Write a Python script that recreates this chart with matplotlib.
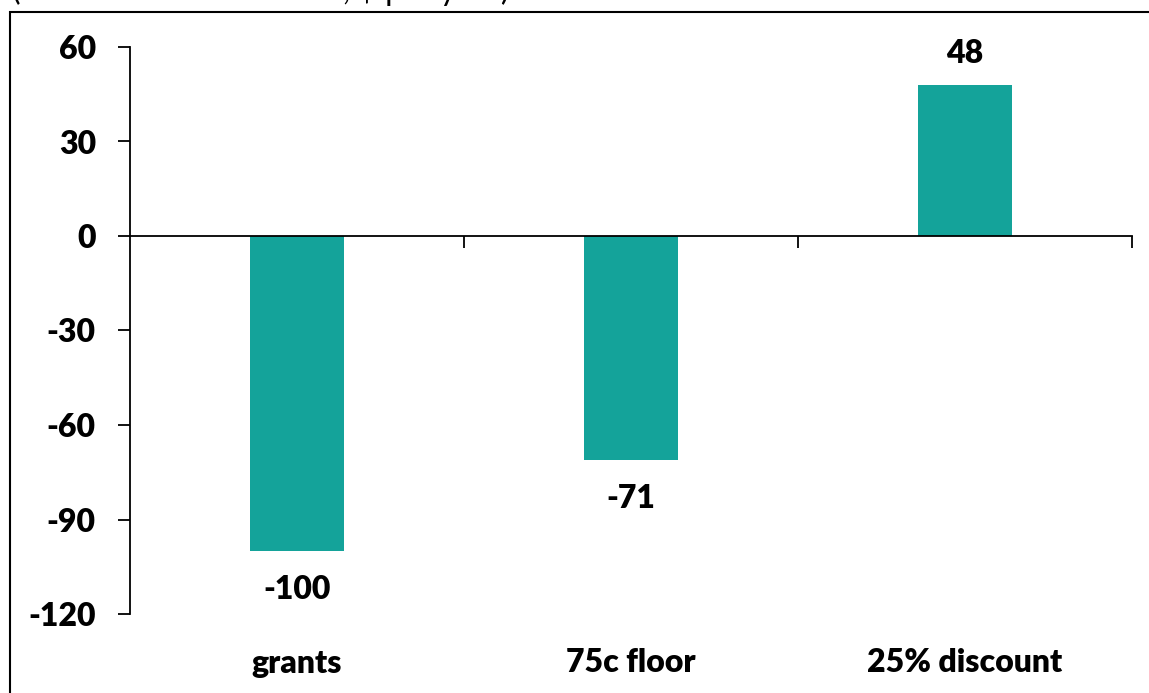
import matplotlib
matplotlib.use("Agg")
import matplotlib.pyplot as plt
from matplotlib.patches import Rectangle
import matplotlib.transforms as mtransforms

categories = ["grants", "75c floor", "25% discount"]
values = [-100, -71, 48]
yticks = [60, 30, 0, -30, -60, -90, -120]
subtitle = "(Net benefit vs baseline, $ per year)"

W, H = 1149, 693
fig = plt.figure(figsize=(W / 100, H / 100), dpi=100)
plt.rcParams['font.family'] = ['Lato', 'DejaVu Sans']
FS = 23
FW = "heavy"

ax = fig.add_axes([130 / W, 1 - 614 / H, (1132 - 130) / W, (614 - 47) / H])

x = list(range(len(categories)))
ax.bar(x, values, width=0.28, color="#14A39A", zorder=2)
ax.set_xlim(-0.5, len(categories) - 0.5)
ax.set_ylim(-120, 60)

for s in ["top", "right"]:
    ax.spines[s].set_visible(False)
ax.spines["bottom"].set_position(("data", 0))
ax.spines["bottom"].set_linewidth(1.3)
ax.spines["left"].set_linewidth(1.3)
ax.spines["bottom"].set_zorder(3)

ax.set_yticks(yticks)
ax.set_yticklabels([str(v) for v in yticks], fontsize=FS, fontweight=FW)
ax.tick_params(axis="y", direction="out", length=8.6, width=1.3, pad=16)

ax.set_xticks([i + 0.5 for i in x])
ax.set_xticklabels([])
ax.tick_params(axis="x", direction="out", length=8.6, width=1.3)

trans = mtransforms.blended_transform_factory(ax.transData, ax.transAxes)
for i, c in enumerate(categories):
    ax.text(i, -49 / 567, c, transform=trans, ha="center", va="center",
            fontsize=FS, fontweight=FW)

for i, v in enumerate(values):
    if v >= 0:
        ax.annotate(str(v), (i, v), xytext=(0, 17), textcoords="offset pixels",
                    ha="center", va="bottom", fontsize=FS, fontweight=FW)
    else:
        ax.annotate(str(v), (i, v), xytext=(0, -24), textcoords="offset pixels",
                    ha="center", va="top", fontsize=FS, fontweight=FW)

# outer frame (cropped on right and bottom)
fig.patches.append(Rectangle((10 / W, -0.1), 1.2, 1 - 12 / H + 0.1,
                             transform=fig.transFigure, fill=False,
                             edgecolor="black", linewidth=1.5))

fig.text(12 / W, 1.0, subtitle, ha="left", va="baseline", fontsize=FS)

fig.savefig("out.png", dpi=100)
